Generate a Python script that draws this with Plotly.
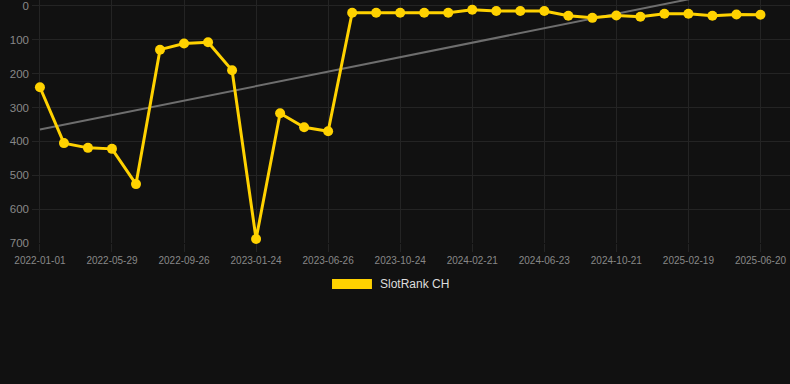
import numpy as np
import plotly.graph_objects as go

dates = [
    "2022-01-01", "2022-02-19", "2022-04-09", "2022-05-29", "2022-07-08",
    "2022-08-17", "2022-09-26", "2022-11-05", "2022-12-15", "2023-01-24",
    "2023-03-15", "2023-05-06", "2023-06-26", "2023-08-05", "2023-09-14",
    "2023-10-24", "2023-12-03", "2024-01-12", "2024-02-21", "2024-04-01",
    "2024-05-13", "2024-06-23", "2024-08-02", "2024-09-11", "2024-10-21",
    "2024-11-30", "2025-01-09", "2025-02-19", "2025-03-31", "2025-05-10",
    "2025-06-20",
]
rank_ch = [
    240, 405, 419, 422, 526, 129, 111, 107, 190, 688,
    317, 358, 370, 20, 20, 20, 20, 20, 11, 15,
    15, 15, 29, 35, 28, 32, 23, 23, 29, 25, 26,
]
tick_labels = [
    "2022-01-01", "2022-05-29", "2022-09-26", "2023-01-24", "2023-06-26",
    "2023-10-24", "2024-02-21", "2024-06-23", "2024-10-21", "2025-02-19",
    "2025-06-20",
]
y_ticks = [0, 100, 200, 300, 400, 500, 600, 700]
series_name = "SlotRank CH"

idx = np.arange(len(rank_ch))
slope, intercept = np.polyfit(idx, rank_ch, 1)
trend = (intercept + slope * idx).tolist()

YELLOW = "#FFD200"
BG = "#111111"
GRID = "#242424"
FONT = "Liberation Sans, Arial, sans-serif"

fig = go.Figure()
fig.add_trace(go.Scatter(
    x=dates, y=trend, mode="lines",
    line=dict(color="#6e6e6e", width=2),
    hoverinfo="skip", showlegend=False,
))
fig.add_trace(go.Scatter(
    x=dates, y=rank_ch, mode="lines+markers", name=series_name,
    line=dict(color=YELLOW, width=3),
    marker=dict(color=YELLOW, size=10),
    showlegend=False, cliponaxis=False,
))

# legend drawn as swatch + text
fig.add_shape(type="rect", xref="paper", yref="paper",
              x0=0.3958, x1=0.4485, y0=-0.189, y1=-0.148,
              fillcolor=YELLOW, line=dict(width=0))
fig.add_annotation(xref="paper", yref="paper", x=0.4565, y=-0.169,
                   text=series_name, showarrow=False, xanchor="left",
                   yanchor="middle", font=dict(family=FONT, size=12, color="#dddddd"))

fig.update_layout(
    width=790, height=384,
    paper_bgcolor=BG, plot_bgcolor=BG,
    margin=dict(l=32, r=0, t=0, b=141),
    font=dict(family=FONT, color="#888888"),
    showlegend=False,
)
fig.update_xaxes(
    type="category", range=[-0.33, 31.23],
    tickmode="array", tickvals=tick_labels, ticktext=tick_labels,
    showgrid=True, gridcolor=GRID, gridwidth=1,
    ticks="outside", ticklen=8, tickcolor=GRID,
    tickfont=dict(size=10, color="#888888"),
    showline=False, zeroline=False,
)
fig.update_yaxes(
    range=[700, -17.7], tickmode="array", tickvals=y_ticks,
    showgrid=True, gridcolor=GRID, gridwidth=1,
    tickfont=dict(size=11.5, color="#888888"),
    zeroline=False, showline=False, ticks="", ticklabelstandoff=2,
    ticklabeloverflow="allow",
)

fig.write_html(
    "out.html",
    config={"displayModeBar": False},
    post_script="document.body.style.margin='0';document.body.style.background='#111111';",
)
